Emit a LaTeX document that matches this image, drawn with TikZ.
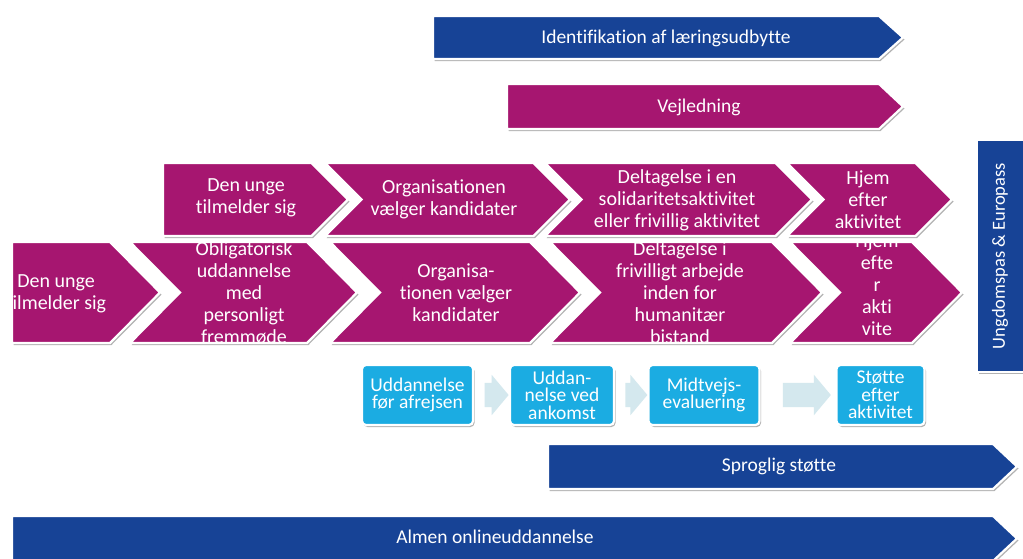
\documentclass[tikz,border=0pt]{standalone}
\usepackage{fontspec}
\setmainfont{Carlito}[Ligatures={NoCommon,NoRare,NoContextual}]
\usetikzlibrary{shadows,shapes.arrows,calc}
\definecolor{mag}{RGB}{166,22,112}
\definecolor{eublue}{RGB}{23,67,150}
\definecolor{skyb}{RGB}{27,172,226}
\definecolor{palearr}{RGB}{212,232,238}
\tikzset{
  shp/.style={draw=white, line width=2.2pt, line join=miter,
    drop shadow={shadow xshift=1.5pt, shadow yshift=-2pt, opacity=0.3, fill=black}},
  magshape/.style={shp, fill=mag},
  blueshape/.style={shp, fill=eublue},
  rowtext/.style={text=white, align=center, inner sep=0pt, font=\fontsize{20}{22}\selectfont},
  bantext/.style={text=white, inner sep=0pt, font=\fontsize{19.5}{22}\selectfont},
  skybox/.style={shp, fill=skyb, rounded corners=4pt, text=white, align=center,
    inner sep=0pt, minimum height=60pt, font=\fontsize{19.5}{17.5}\selectfont},
  blockarr/.style={single arrow, fill=palearr, draw=none, inner xsep=0pt, inner ysep=12pt,
    single arrow head extend=8pt, single arrow tip angle=100, anchor=center}
}
\newcommand{\arrowshape}[7]{%
  \path[#1] (#2,#4) -- ({#3-#6},#4) -- (#3,{(#4+#5)/2}) -- ({#3-#6},#5) -- (#2,#5) -- ({#2+#7},{(#4+#5)/2}) -- cycle;}
\begin{document}
\begin{tikzpicture}[x=1pt,y=-1pt]
\useasboundingbox (0,0) rectangle (1023,558);
\clip (0,0) rectangle (1023,558);
\fill[white] (0,0) rectangle (1023,558);

% top banners
\arrowshape{blueshape}{433}{903}{16}{59}{24}{0}
\node[bantext] (ident) at (666,38) {Identifikation af læringsudbytte};
\arrowshape{magshape}{507}{903}{84}{129}{24}{0}
\node[bantext] (vejl) at (699,107) {Vejledning};

% lower chevron row
\arrowshape{magshape}{12}{160}{242}{343}{50}{0}
\arrowshape{magshape}{130}{357}{242}{343}{50}{50}
\arrowshape{magshape}{330}{580}{242}{343}{50}{50}
\arrowshape{magshape}{550}{822}{242}{343}{50}{50}
\arrowshape{magshape}{790}{962}{242}{343}{50}{50}
\begin{scope}
\clip (0,239) rectangle (1023,341);
\node[rowtext] (l1) at (56,294) {Den unge\\tilmelder sig};
\node[rowtext] (l2) at (244,293) {Obligatorisk\\uddannelse\\med\\personligt\\fremmøde};
\node[rowtext] (l3) at (456,293) {Organisa-\\tionen vælger\\kandidater};
\node[rowtext] (l4) at (680,293) {Deltagelse i\\frivilligt arbejde\\inden for\\humanitær\\bistand};
\node[rowtext] (l5) at (877,296) {Hjem\\efte\\r\\akti\\vite\\t};
\end{scope}

% upper chevron row
\arrowshape{magshape}{163}{348}{163}{236}{36.5}{0}
\arrowshape{magshape}{325}{570}{163}{236}{36.5}{36.5}
\arrowshape{magshape}{545}{812}{163}{236}{36.5}{36.5}
\arrowshape{magshape}{787}{952}{163}{236}{36.5}{36.5}
\node[rowtext] (u1) at (246,198) {Den unge\\tilmelder sig};
\node[rowtext] (u2) at (444,199) {Organisationen\\vælger kandidater};
\node[rowtext] (u3) at (677,200) {Deltagelse i en\\solidaritetsaktivitet\\eller frivillig aktivitet};
\node[rowtext] (u4) at (868,200) {Hjem\\efter\\aktivitet};

% vertical box
\path[blueshape] (977,140) rectangle (1032,372);
\node[text=white, rotate=90, inner sep=0pt, font=\fontsize{18.5}{22}\selectfont] (pass) at (1000,256) {Ungdomspas \& Europass};

% support boxes
\node[skybox, minimum width=111pt] (b1) at (417.5,395) {Uddannelse\\før afrejsen};
\node[skybox, minimum width=104pt] (b2) at (562,395) {Uddan-\\nelse ved\\ankomst};
\node[skybox, minimum width=111pt] (b3) at (704,395) {Midtvejs-\\evaluering};
\node[skybox, minimum width=88pt] (b4) at (880.5,395) {Støtte\\efter\\aktivitet};
\node[blockarr, minimum height=24pt] (a1) at ($(b1.east)!0.5!(b2.west)$) {};
\node[blockarr, minimum height=22pt] (a2) at ($(b2.east)!0.5!(b3.west)$) {};
\node[blockarr, minimum height=48pt] (a3) at ($(b3.east)!0.55!(b4.west)$) {};

% bottom banners
\arrowshape{blueshape}{548}{1017}{444}{489}{24}{0}
\node[bantext] (sprog) at (779,466) {Sproglig støtte};
\arrowshape{blueshape}{12}{1017}{516}{561}{24}{0}
\node[bantext] (almen) at (495,537) {Almen onlineuddannelse};
\end{tikzpicture}
\end{document}
